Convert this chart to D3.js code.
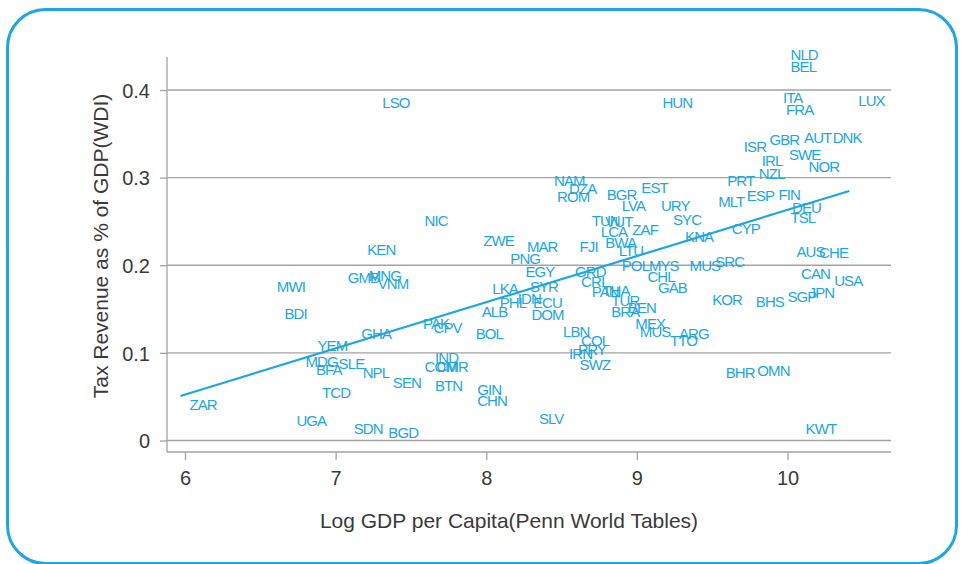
<!DOCTYPE html>
<html>
<head>
<meta charset="utf-8">
<script src="https://cdn.jsdelivr.net/npm/d3@7/dist/d3.min.js"></script>
<style>
  html, body { margin: 0; padding: 0; background: #ffffff; }
  svg { display: block; }
</style>
</head>
<body>
<script>
// ---------------- DATA ----------------
const countries = ["LSO","HUN","NLD","BEL","ITA","FRA","LUX","ISR","GBR","AUT","DNK","IRL","SWE","NZL","NOR","PRT",
  "NAM","DZA","ROM","BGR","EST","LVA","URY","MLT","ESP","FIN","DEU","TSL","NIC","TUN","VUT","LCA","ZAF","SYC","CYP","KNA",
  "ZWE","MAR","FJI","BWA","LTU","KEN","PNG","POL","MYS","MUS","SRC","AUS","CHE","MWI","GMB","MNG","VNM","EGY","GRD","CRI",
  "CHL","CAN","USA","LKA","SYR","PAN","THA","GAB","KOR","BHS","SGP","JPN","BDI","PHL","IDN","ECU","ALB","TUR","BRA","BEN",
  "DOM","PAK","CPV","GHA","BOL","MEX","MUS","LBN","ARG","TTO","COL","YEM","PRY","IRN","SWZ","MDG","SLE","BFA","NPL","IND",
  "COM","CMR","BHR","OMN","SEN","BTN","TCD","GIN","CHN","ZAR","UGA","SLV","SDN","BGD","KWT"];
const logGdp = [7.25,9.11,9.96,9.96,9.91,9.93,10.41,9.65,9.82,10.05,10.24,9.77,9.95,9.75,10.08,9.54,
  8.39,8.49,8.41,8.74,8.97,8.84,9.10,9.48,9.67,9.88,9.97,9.96,7.53,8.64,8.73,8.70,8.91,9.18,9.57,9.26,
  7.92,8.21,8.56,8.73,8.82,7.15,8.10,8.84,9.02,9.29,9.46,10.00,10.15,6.55,7.02,7.16,7.22,8.20,8.53,8.57,
  9.01,10.03,10.25,7.98,8.23,8.64,8.71,9.08,9.44,9.73,9.94,10.08,6.60,8.03,8.15,8.25,7.91,8.77,8.77,8.88,
  8.24,7.52,7.59,7.11,7.87,8.93,8.96,8.45,9.22,9.16,8.57,6.82,8.55,8.49,8.56,6.74,6.96,6.81,7.12,7.60,
  7.53,7.61,9.53,9.74,7.32,7.60,6.85,7.88,7.88,5.97,6.68,8.29,7.06,7.29,10.06];
const taxRevenue = [0.386,0.386,0.440,0.426,0.391,0.377,0.388,0.335,0.343,0.346,0.346,0.319,0.326,0.304,0.312,0.297,
  0.297,0.287,0.278,0.280,0.288,0.268,0.268,0.272,0.279,0.280,0.266,0.254,0.251,0.251,0.250,0.238,0.241,0.252,0.242,0.233,
  0.228,0.221,0.221,0.226,0.216,0.218,0.207,0.200,0.200,0.199,0.204,0.215,0.214,0.175,0.186,0.188,0.179,0.193,0.193,0.181,
  0.187,0.190,0.182,0.173,0.175,0.170,0.171,0.174,0.161,0.158,0.164,0.169,0.145,0.157,0.162,0.157,0.147,0.160,0.147,0.152,
  0.143,0.133,0.129,0.122,0.122,0.133,0.124,0.124,0.122,0.114,0.114,0.108,0.103,0.099,0.087,0.090,0.088,0.081,0.077,0.095,
  0.084,0.084,0.077,0.080,0.066,0.063,0.054,0.058,0.045,0.041,0.022,0.025,0.013,0.009,0.013];
// fitted regression line: ends at min and max of log GDP
const fitX = [5.97, 10.41];
const fitY = [0.0508, 0.2848];
const xTicks = [6, 7, 8, 9, 10];
const yTicks = [0, 0.1, 0.2, 0.3, 0.4];
const xTitle = "Log GDP per Capita(Penn World Tables)";
const yTitle = "Tax Revenue as % of GDP(WDI)";

// ---------------- LAYOUT ----------------
const W = 964, H = 564;
const blue = "#1ba6e4";
const grid = "#a3a3a3";
const textCol = "#3a3a3a";
const font = "'Liberation Sans', Arial, sans-serif";

const x = d3.scaleLinear().domain([6, 10]).range([185, 787.5]);
const y = d3.scaleLinear().domain([0, 0.4]).range([440.5, 90]);
const plotLeft = 167, plotRight = 891, plotTop = 57, axisY = 452;

const svg = d3.select("body").append("svg").attr("width", W).attr("height", H);

// frame
svg.append("rect")
  .attr("x", 7.5).attr("y", 9.5).attr("width", 949).attr("height", 554)
  .attr("rx", 38).attr("ry", 38)
  .attr("fill", "none").attr("stroke", blue).attr("stroke-width", 3);

// gridlines
svg.append("g").selectAll("line").data(yTicks).join("line")
  .attr("x1", plotLeft).attr("x2", plotRight)
  .attr("y1", d => y(d)).attr("y2", d => y(d))
  .attr("stroke", grid).attr("stroke-width", 1.3);

// y axis
const yAxis = d3.axisLeft(y).tickValues(yTicks).tickSize(7).tickPadding(10)
  .tickFormat(d => d === 0 ? "0" : d3.format(".1f")(d));
const gy = svg.append("g").attr("transform", `translate(${plotLeft},0)`).call(yAxis);
gy.select(".domain").remove();
gy.append("line").attr("x1", 0).attr("x2", 0).attr("y1", plotTop).attr("y2", axisY)
  .attr("stroke", grid).attr("stroke-width", 1.3);
gy.selectAll(".tick line").attr("stroke", grid).attr("stroke-width", 1.3);
gy.selectAll(".tick text").attr("fill", textCol).attr("font-size", 20)
  .attr("font-family", font).attr("dy", "0.36em");

// x axis
const xAxis = d3.axisBottom(x).tickValues(xTicks).tickSize(8).tickPadding(11)
  .tickFormat(d3.format("d"));
const gx = svg.append("g").attr("transform", `translate(0,${axisY})`).call(xAxis);
gx.select(".domain").remove();
gx.append("line").attr("x1", plotLeft).attr("x2", plotRight).attr("y1", 0).attr("y2", 0)
  .attr("stroke", grid).attr("stroke-width", 1.3);
gx.selectAll(".tick line").attr("stroke", grid).attr("stroke-width", 1.3);
gx.selectAll(".tick text").attr("fill", textCol).attr("font-size", 20)
  .attr("font-family", font);

// axis titles
svg.append("text").attr("x", 509).attr("y", 528)
  .attr("text-anchor", "middle").attr("fill", textCol)
  .attr("font-size", 21).attr("font-family", font)
  .text(xTitle);
svg.append("text").attr("transform", "translate(108,246) rotate(-90)")
  .attr("text-anchor", "middle").attr("fill", textCol)
  .attr("font-size", 21).attr("font-family", font)
  .text(yTitle);

// regression line
const fit = fitX.map((v, i) => ({ x: v, y: fitY[i] }));
svg.append("path").datum(fit)
  .attr("d", d3.line().x(d => x(d.x)).y(d => y(d.y)))
  .attr("fill", "none").attr("stroke", blue).attr("stroke-width", 2.2);

// country labels (placed to the right of each point, like mlabpos(3))
const pts = countries.map((c, i) => ({ c, gx: logGdp[i], ty: taxRevenue[i] }));
svg.append("g").selectAll("text").data(pts).join("text")
  .attr("x", d => x(d.gx) + 9)
  .attr("y", d => y(d.ty))
  .attr("dy", "0.35em")
  .attr("fill", blue)
  .attr("font-size", 15)
  .attr("letter-spacing", -0.9)
  .attr("font-family", font)
  .text(d => d.c);
</script>
</body>
</html>
